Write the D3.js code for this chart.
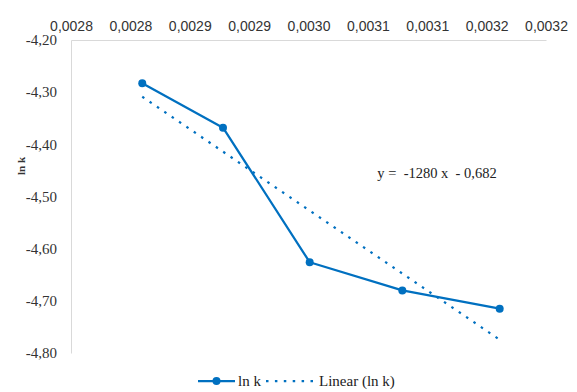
<!DOCTYPE html>
<html>
<head>
<meta charset="utf-8">
<script src="https://cdn.jsdelivr.net/npm/d3@7"></script>
<style>
  body { margin: 0; background: #fff; }
</style>
</head>
<body>
<svg id="chart"></svg>
<script>
// values
const invT = [0.00286, 0.002928, 0.003001, 0.003079, 0.003161]
const lnK = [-4.283, -4.368, -4.626, -4.680, -4.715]
const xTicks = [0.0028, 0.00285, 0.0029, 0.00295, 0.003, 0.00305, 0.0031, 0.00315, 0.0032]
const xTickLabels = ['0,0028', '0,0028', '0,0029', '0,0029', '0,0030', '0,0031', '0,0031', '0,0032', '0,0032']
const yTicks = [-4.2, -4.3, -4.4, -4.5, -4.6, -4.7, -4.8]
const equation = 'y =  -1280 x  - 0,682'

const width = 577, height = 392
const marginTop = 40, marginBottom = 39, marginLeft = 71, marginRight = 31
const blue = '#0070c0'

const svg = d3.select('#chart')
    .attr('width', width)
    .attr('height', height)
    .attr('viewBox', [0, 0, width, height])

const xScale = d3.scaleLinear([0.0028, 0.0032], [marginLeft, width - marginRight])
const yScale = d3.scaleLinear([-4.8, -4.2], [height - marginBottom, marginTop])

const xAxis = d3.axisTop(xScale).tickValues(xTicks).tickSize(0).tickPadding(9)
    .tickFormat((d, i) => xTickLabels[i])
const yAxis = d3.axisLeft(yScale).tickValues(yTicks).tickSize(0).tickPadding(14)
    .tickFormat(d => d3.format('.2f')(d).replace('.', ',').replace('−', '-'))

svg.append('g')
   .attr('transform', `translate(0,${marginTop})`)
   .call(xAxis)
   .call(g => g.select('.domain').attr('stroke', '#d9d9d9').attr('stroke-width', 1))
   .call(g => g.selectAll('text')
               .attr('fill', '#333')
               .attr('font-family', 'Liberation Sans, Arial, sans-serif')
               .attr('font-size', 14))

svg.append('g')
   .attr('transform', `translate(${marginLeft},0)`)
   .call(yAxis)
   .call(g => g.select('.domain').attr('stroke', '#d9d9d9').attr('stroke-width', 1))
   .call(g => g.selectAll('text')
               .attr('fill', '#333')
               .attr('font-family', 'Liberation Serif, Times New Roman, serif')
               .attr('font-size', 15))

// y axis title
svg.append('text')
   .attr('transform', `translate(25,166) rotate(-90)`)
   .attr('text-anchor', 'middle')
   .attr('font-family', 'Liberation Serif, Times New Roman, serif')
   .attr('font-size', 11)
   .attr('font-weight', 'bold')
   .attr('fill', '#333')
   .text('ln k')

// linear trend (least squares on the data)
const mx = d3.mean(invT), my = d3.mean(lnK)
const slope = d3.sum(invT, (x, i) => (x - mx) * (lnK[i] - my)) / d3.sum(invT, x => (x - mx) ** 2)
const icpt = my - slope * mx
const xEnds = d3.extent(invT)

svg.append('line')
   .attr('x1', xScale(xEnds[0]))
   .attr('x2', xScale(xEnds[1]))
   .attr('y1', yScale(slope * xEnds[0] + icpt))
   .attr('y2', yScale(slope * xEnds[1] + icpt))
   .attr('stroke', blue)
   .attr('stroke-width', 2.25)
   .attr('stroke-dasharray', '2.5,6.4')

const line = d3.line()
    .x((d, i) => xScale(invT[i]))
    .y(d => yScale(d))

svg.append('path')
   .datum(lnK)
   .attr('fill', 'none')
   .attr('stroke', blue)
   .attr('stroke-width', 2.25)
   .attr('stroke-linejoin', 'round')
   .attr('d', line)

svg.append('g')
   .selectAll('circle')
   .data(lnK)
   .join('circle')
   .attr('cx', (d, i) => xScale(invT[i]))
   .attr('cy', d => yScale(d))
   .attr('r', 4)
   .attr('fill', blue)

// equation label
svg.append('text')
   .attr('x', 437)
   .attr('y', 178)
   .attr('text-anchor', 'middle')
   .attr('font-family', 'Liberation Serif, Times New Roman, serif')
   .attr('font-size', 14.5)
   .attr('fill', '#222')
   .style('white-space', 'pre')
   .text(equation)

// legend
const legY = 381
const leg = svg.append('g').attr('font-family', 'Liberation Serif, Times New Roman, serif')
    .attr('font-size', 15).attr('fill', '#222')
leg.append('line')
   .attr('x1', 198).attr('x2', 235).attr('y1', legY).attr('y2', legY)
   .attr('stroke', blue).attr('stroke-width', 2.25)
leg.append('circle').attr('cx', 216.5).attr('cy', legY).attr('r', 4).attr('fill', blue)
leg.append('text').attr('x', 238).attr('y', legY + 5).text('ln k')
leg.append('line')
   .attr('x1', 266).attr('x2', 314).attr('y1', legY).attr('y2', legY)
   .attr('stroke', blue).attr('stroke-width', 2.25)
   .attr('stroke-dasharray', '2.5,6.4')
leg.append('text').attr('x', 319).attr('y', legY + 5).text('Linear (ln k)')
</script>
</body>
</html>
